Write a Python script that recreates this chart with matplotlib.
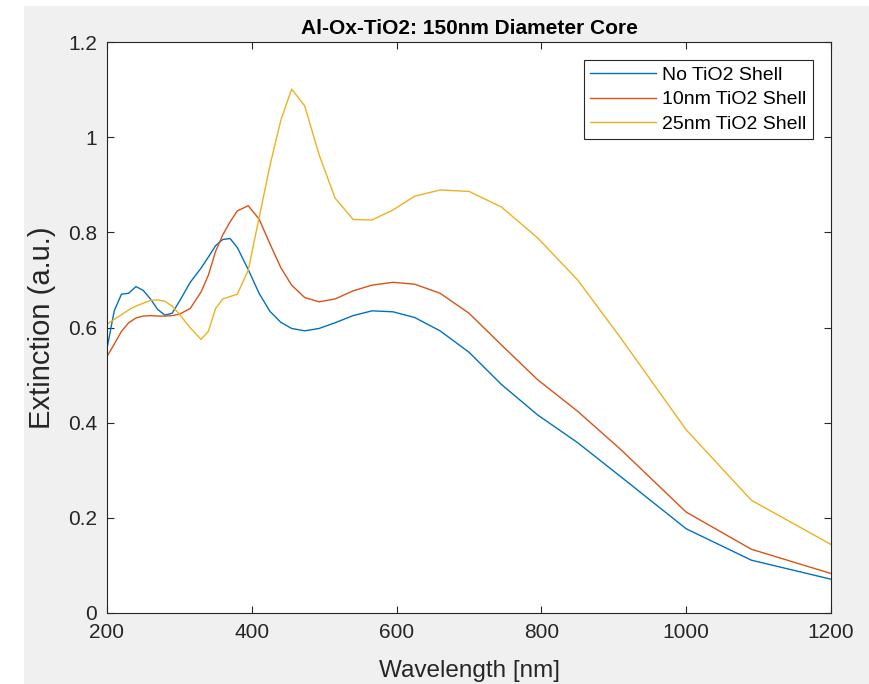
import matplotlib
matplotlib.use('Agg')
import matplotlib.pyplot as plt
from matplotlib.patches import Rectangle

# ── Data ──────────────────────────────────────────────────────────────────────
wavelength = [200, 210, 220, 230, 240, 250, 260, 270, 280, 290, 300, 315, 330,
              340, 350, 360, 370, 380, 395, 410, 425, 440, 455, 473, 493, 515,
              540, 566, 595, 625, 660, 700, 745, 795, 850, 910, 1000, 1090, 1200]

no_shell = [0.556, 0.635, 0.670, 0.672, 0.686, 0.678, 0.660, 0.638, 0.626, 0.630,
            0.655, 0.695, 0.725, 0.748, 0.772, 0.785, 0.787, 0.768, 0.722, 0.672,
            0.634, 0.611, 0.598, 0.593, 0.598, 0.610, 0.625, 0.635, 0.633, 0.621,
            0.593, 0.548, 0.480, 0.416, 0.358, 0.286, 0.177, 0.111, 0.071]

shell_10nm = [0.539, 0.565, 0.592, 0.610, 0.620, 0.624, 0.625, 0.624, 0.624, 0.625,
              0.628, 0.640, 0.675, 0.710, 0.760, 0.795, 0.822, 0.845, 0.856, 0.828,
              0.776, 0.726, 0.689, 0.663, 0.654, 0.660, 0.677, 0.689, 0.695, 0.691,
              0.672, 0.630, 0.563, 0.490, 0.424, 0.343, 0.212, 0.134, 0.083]

shell_25nm = [0.607, 0.617, 0.627, 0.637, 0.645, 0.651, 0.657, 0.658, 0.655, 0.645,
              0.628, 0.599, 0.575, 0.592, 0.640, 0.660, 0.665, 0.670, 0.720, 0.830,
              0.940, 1.035, 1.101, 1.066, 0.963, 0.872, 0.827, 0.826, 0.847, 0.876,
              0.889, 0.886, 0.853, 0.788, 0.700, 0.577, 0.385, 0.237, 0.144]

LABELS = ["No TiO2 Shell", "10nm TiO2 Shell", "25nm TiO2 Shell"]
COLORS = ["#0072BD", "#D95319", "#EDB120"]

plt.rcParams['font.family'] = ['Liberation Sans', 'DejaVu Sans']
AX_COL = '#262626'

# ── Plot ──────────────────────────────────────────────────────────────────────
fig = plt.figure(figsize=(8.69, 6.84), dpi=100, facecolor='white')
fig.patches.append(Rectangle((24 / 869, 0), 1, 678 / 684, transform=fig.transFigure,
                             facecolor='#f0f0f0', edgecolor='none', zorder=-10))
ax = fig.add_axes([107 / 869, 1 - 613 / 684, 724 / 869, 571 / 684])

for ys, lab, col in zip([no_shell, shell_10nm, shell_25nm], LABELS, COLORS):
    ax.plot(wavelength, ys, color=col, lw=1.0, label=lab)

ax.set_xlim(200, 1200)
ax.set_ylim(0, 1.2)
ax.set_xticks([200, 400, 600, 800, 1000, 1200])
ax.set_yticks([0, 0.2, 0.4, 0.6, 0.8, 1.0, 1.2])
ax.set_yticklabels(["0", "0.2", "0.4", "0.6", "0.8", "1", "1.2"])
ax.tick_params(direction='in', length=5, width=0.8, colors=AX_COL, labelsize=15,
               top=True, right=True, pad=7)
for s in ax.spines.values():
    s.set_color(AX_COL)
    s.set_linewidth(0.8)

ax.set_title("Al-Ox-TiO2: 150nm Diameter Core", fontsize=15, fontweight='bold',
             color='black', pad=6)
ax.set_xlabel("Wavelength [nm]", fontsize=17.5, color=AX_COL, labelpad=13)
ax.set_ylabel("Extinction (a.u.)", fontsize=21, color=AX_COL, labelpad=9)

leg = ax.legend(loc='upper right', fontsize=14, fancybox=False, framealpha=1,
                edgecolor=AX_COL, handlelength=3.4, handletextpad=0.35,
                labelspacing=0.35, borderaxespad=0.95, borderpad=0.3)
leg.get_frame().set_linewidth(0.8)

plt.savefig("out.png", dpi=100, facecolor=fig.get_facecolor())
